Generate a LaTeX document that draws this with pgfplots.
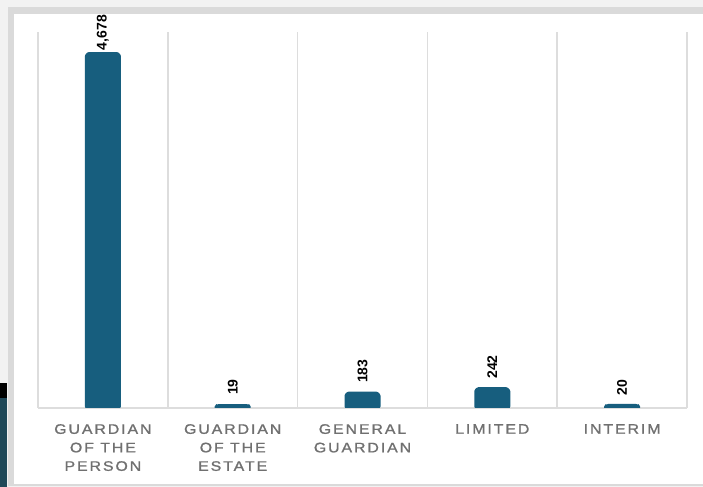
\documentclass[border=0pt]{standalone}
\usepackage{fontspec}
\setmainfont{Liberation Sans}
\newfontfamily\catfont[LetterSpace=14, FakeStretch=1.15, FakeBold=1.2]{Liberation Sans}
\usepackage{pgfplots}
\pgfplotsset{compat=1.18}
\definecolor{barc}{RGB}{23,94,126}
\definecolor{gridc}{RGB}{221,221,221}
\definecolor{labc}{RGB}{112,112,112}
\definecolor{bgc}{RGB}{242,242,242}
\definecolor{cardb}{RGB}{218,218,218}
\definecolor{darkc}{RGB}{31,72,88}
\begin{document}
\begin{tikzpicture}[x=1bp,y=1bp]
\useasboundingbox (0,0) rectangle (703,487);
\fill[bgc] (0,0) rectangle (703,487);
\fill[cardb] (8,1) rectangle (703,480);
\fill[white] (14,3) rectangle (703,473);
\fill[black] (0,89) rectangle (7,104);
\fill[darkc] (0,0) rectangle (7,89);
\begin{axis}[
  at={(38bp,79bp)}, anchor=south west,
  width=649bp, height=376bp, scale only axis,
  xmin=-0.5, xmax=4.5, ymin=0, ymax=4976,
  axis y line=none, axis x line=bottom,
  x axis line style={draw=gridc, line width=1.5bp, -},
  xtick={0,1,2,3,4},
  xticklabels={GUARDIAN\\OF THE\\PERSON, GUARDIAN\\OF THE\\ESTATE, GENERAL\\GUARDIAN, LIMITED, INTERIM},
  major tick length=0pt, minor tick length=0pt,
  minor xtick={-0.5,0.5,1.5,2.5,3.5,4.5},
  xminorgrids,
  minor grid style={draw=gridc, line width=1.5bp},
  x tick label style={font=\catfont\fontsize{13.8bp}{18.5bp}\selectfont, text=labc, align=center, anchor=north, inner sep=0pt, yshift=-16bp},
  clip mode=individual,
]
\addplot[ybar, bar width=31bp, fill=barc, draw=barc, line width=5bp, line join=round, rounded corners=1.5bp] table {
x y
0 4678
1 19
2 183
3 242
4 20
};
\addplot[only marks, mark=none, nodes near coords, point meta=explicit symbolic,
  nodes near coords style={rotate=90, anchor=west, inner sep=0pt, font=\bfseries\fontsize{14bp}{16bp}\selectfont, text=black}]
  table[meta=lab] {
x y lab
0 4733 4,678
1 172 19
2 331 183
3 384 242
4 159 20
};
\end{axis}
\end{tikzpicture}
\end{document}
